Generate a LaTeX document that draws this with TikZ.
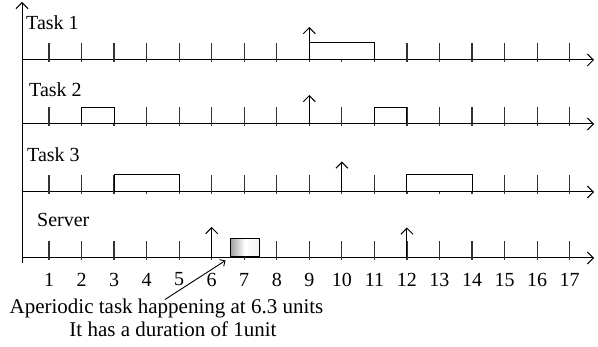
\documentclass[tikz,border=0pt]{standalone}
\usepackage{fontspec}
\setmainfont{Liberation Serif}
\usetikzlibrary{arrows.meta}
\tikzset{
  axisline/.style={line width=1pt,-{Straight Barb[length=6pt,width=12pt,line width=1pt]}},
  tickmark/.style={line width=1.2pt,black!80},
  taskbox/.style={draw,line width=1pt,fill=white},
  release/.style={line width=1pt,-{Straight Barb[length=6pt,width=12pt,line width=1pt]}},
  lbl/.style={font=\fontsize{20}{23}\selectfont,inner sep=0pt,anchor=west},
  num/.style={font=\fontsize{20}{23}\selectfont,inner sep=0pt},
  note/.style={font=\fontsize{21}{24}\selectfont,inner sep=0pt},
  pointer/.style={line width=0.9pt,-{Straight Barb[length=4pt,width=8pt,line width=0.9pt]}}
}
\newcommand{\tx}[1]{16.46+32.54*#1}
\begin{document}
\begin{tikzpicture}[x=1pt,y=-1pt]
\useasboundingbox (0,0) rectangle (598,347);
% vertical axis
\draw[axisline] (22,263) -- (22,2);
% rows
\foreach \y in {60,124,192,258}{
  \draw[axisline] (22,\y) -- (594,\y);
  \foreach \k in {1,...,17}{
    \draw[tickmark] ({\tx{\k}},\y+2) -- ({\tx{\k}},\y-17);
  }
}
% Task 1
\draw[taskbox] ({\tx{9}},60) rectangle ({\tx{11}},43);
\draw[release] ({\tx{9}},60) -- ({\tx{9}},27);
% Task 2
\draw[taskbox] ({\tx{2}},124) rectangle ({\tx{3}},108);
\draw[taskbox] ({\tx{11}},124) rectangle ({\tx{12}},108);
\draw[release] ({\tx{9}},124) -- ({\tx{9}},95);
% Task 3
\draw[taskbox] ({\tx{3}},192) rectangle ({\tx{5}},175);
\draw[taskbox] ({\tx{12}},192) rectangle ({\tx{14}},175);
\draw[release] ({\tx{10}},192) -- ({\tx{10}},161.5);
% Server
\draw[line width=1pt,left color=gray!75,right color=gray!10,middle color=white] (230.5,256.7) rectangle (259.3,238.3);
\draw[release] ({\tx{6}},258) -- ({\tx{6}},227);
\draw[release] ({\tx{12}},258) -- ({\tx{12}},227.5);
% labels
\node[lbl] (t1) at (26,23) {Task 1};
\node[lbl] (t2) at (29,90) {Task 2};
\node[lbl] (t3) at (27,155) {Task 3};
\node[lbl] (sv) at (37,220) {Server};
\foreach \k in {1,...,17}{
  \node[num] (n\k) at ({\tx{\k}},279.5) {\k};
}
% annotation
\node[note] (a1) at (166.5,308) {Aperiodic task happening at 6.3 units};
\node[note] (a2) at (173,329.5) {It has a duration of 1unit};
\coordinate (from) at (165,299.5);
\coordinate (to) at (225.5,260.5);
\draw[pointer] (from) -- (to);
\end{tikzpicture}
\end{document}
